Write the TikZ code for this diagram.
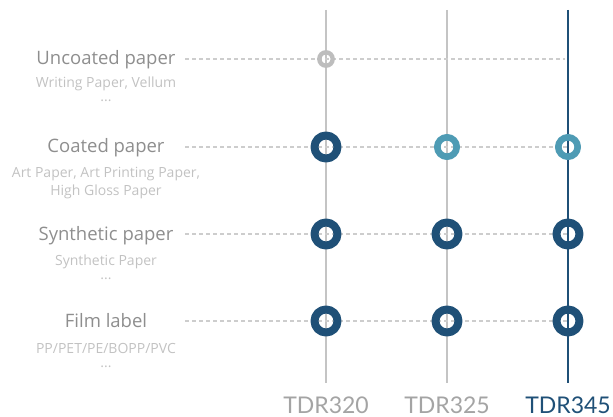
\documentclass[tikz,border=0pt]{standalone}
\usepackage{fontspec}
\setmainfont{Open Sans}
\newfontfamily\colfont{Lato}
\usetikzlibrary{positioning}
\definecolor{navy}{HTML}{1F5077}
\definecolor{tealring}{HTML}{4E9BB4}
\definecolor{lgray}{HTML}{C4C4C4}
\definecolor{dgray}{HTML}{BDBDBD}
\definecolor{txt}{HTML}{8E8E8E}
\definecolor{subtxt}{HTML}{C2C2C2}
\begin{document}
\begin{tikzpicture}[x=1pt, y=-1pt, line join=round, inner sep=0pt]
			\useasboundingbox (0,0) rectangle (613,417);
			\tikzset{
				bigring/.style={circle, draw=navy, line width=8pt, minimum size=23pt},
				midring/.style={circle, draw=tealring, line width=6.6pt, minimum size=19.4pt},
				smallring/.style={circle, draw=dgray, line width=4.4pt, minimum size=13.4pt},
				rowline/.style={lgray!85, line width=1.1pt, dash pattern=on 4pt off 3pt},
				title/.style={anchor=base, text=txt, font=\fontsize{18.5}{18.5}\selectfont},
				sub/.style={anchor=base, text=subtxt, font=\fontsize{14}{18}\selectfont, align=center},
				collabel/.style={text=txt!80, font=\colfont\fontsize{23}{23}\selectfont}
			}
			%\draw[gray!10] (0,0) grid[step=50] (613,417);
			\coordinate (T1) at (326,10); \coordinate (B1) at (326,383);
			\coordinate (T2) at (447,10); \coordinate (B2) at (447,383);
			\coordinate (T3) at (568,10); \coordinate (B3) at (568,383);
			\coordinate (R1) at (185,59); \coordinate (E1) at (565,59);
			\coordinate (R2) at (185,147);
			\coordinate (R3) at (185,234);
			\coordinate (R4) at (185,321);
			\draw [lgray, line width=1.6pt] (T1)--(B1);
			\draw [lgray, line width=1.6pt] (T2)--(B2);
			\draw [navy, line width=2.6pt] (T3)--(B3);
			\draw[rowline] (R1)--(E1);
			\draw[rowline] (R2)--(568,147);
			\draw[rowline] (R3)--(568,234);
			\draw[rowline] (R4)--(568,321);
			% markers
			\node[smallring] (m11) at (326,59) {};
			\node[bigring] (m21) at (326,147) {};
			\node[midring] (m22) at (447,147) {};
			\node[midring] (m23) at (568,147) {};
			\node[bigring] (m31) at (326,234) {};
			\node[bigring] (m32) at (447,234) {};
			\node[bigring] (m33) at (568,234) {};
			\node[bigring] (m41) at (326,321) {};
			\node[bigring] (m42) at (447,321) {};
			\node[bigring] (m43) at (568,321) {};
			% row labels
			\node[title] (uncoated) at (106,65) {Uncoated paper};
			\node[sub] (uncoatedsub) at (106,102) {Writing Paper, Vellum\\[-4pt]...};
			\node[title] (coated) at (106,153) {Coated paper};
			\node[sub] (coatedsub) at (106,195) {Art Paper, Art Printing Paper,\\High Gloss Paper};
			\node[title] (synthetic) at (106,240) {Synthetic paper};
			\node[sub] (syntheticsub) at (106,279) {Synthetic Paper\\[-4pt]...};
			\node[title] (film) at (106,327) {Film label};
			\node[sub] (filmsub) at (106,367) {PP/PET/PE/BOPP/PVC\\[-4pt]...};
			% column labels
			\node[collabel] (tdr320) at (326,405) {TDR320};
			\node[collabel] (tdr325) at (447,405) {TDR325};
			\node[collabel, text=navy] (tdr345) at (568,405) {TDR345};
		\end{tikzpicture}
\end{document}
